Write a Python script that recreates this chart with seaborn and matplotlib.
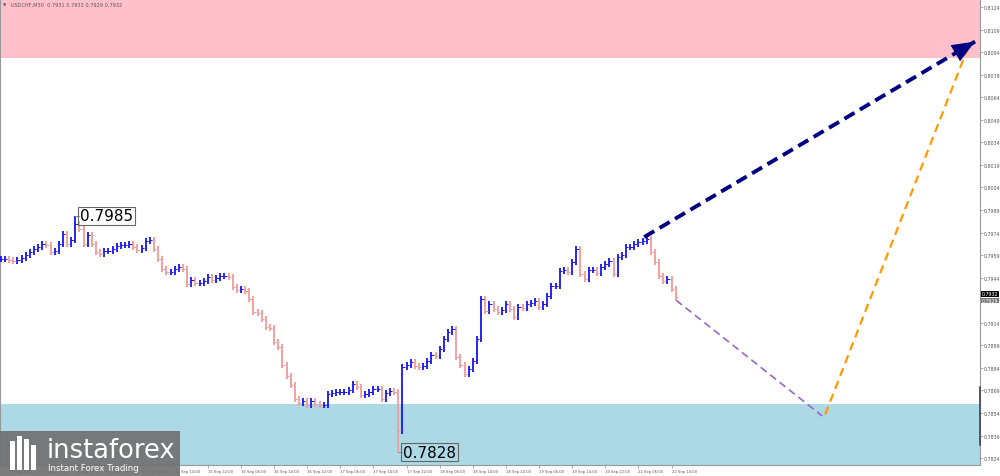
import numpy as np
import pandas as pd
import seaborn as sns
import matplotlib
matplotlib.use("Agg")
from matplotlib import pyplot as plt
from matplotlib.patches import Rectangle

sns.set_theme(style="white")
plt.rcParams['font.family'] = ['DejaVu Sans']

# USDCHF hourly closes (11 Sep 20:00 -> 22 Sep 15:00)
first_open = 0.7956
closes = [
    0.79564, 0.79564, 0.79557, 0.79551, 0.79557, 0.79571, 0.79591, 0.79611, 0.79630, 0.79644,
    0.79664, 0.79657, 0.79611, 0.79617, 0.79664, 0.79730, 0.79664, 0.79690, 0.79797, 0.79764,
    0.79664, 0.79724, 0.79664, 0.79611, 0.79597, 0.79617, 0.79617, 0.79630, 0.79650, 0.79657,
    0.79657, 0.79664, 0.79644, 0.79624, 0.79637, 0.79684, 0.79690, 0.79630, 0.79564, 0.79497,
    0.79477, 0.79477, 0.79497, 0.79511, 0.79497, 0.79398, 0.79424, 0.79404, 0.79404, 0.79418,
    0.79444, 0.79424, 0.79438, 0.79451, 0.79451, 0.79444, 0.79378, 0.79358, 0.79364, 0.79351,
    0.79298, 0.79211, 0.79205, 0.79165, 0.79112, 0.79105, 0.79012, 0.78979, 0.78859, 0.78786,
    0.78726, 0.78633, 0.78607, 0.78620, 0.78593, 0.78620, 0.78600, 0.78593, 0.78593, 0.78666,
    0.78673, 0.78680, 0.78680, 0.78680, 0.78693, 0.78733, 0.78713, 0.78660, 0.78666, 0.78680,
    0.78699, 0.78699, 0.78633, 0.78673, 0.78685, 0.78680, 0.78420, 0.78846, 0.78859, 0.78879,
    0.78852, 0.78846, 0.78852, 0.78886, 0.78926, 0.78919, 0.78965, 0.79032, 0.79079, 0.79098,
    0.78912, 0.78859, 0.78799, 0.78832, 0.78886, 0.79032, 0.79298, 0.79218, 0.79265, 0.79231,
    0.79211, 0.79225, 0.79265, 0.79231, 0.79178, 0.79245, 0.79238, 0.79265, 0.79271, 0.79285,
    0.79245, 0.79265, 0.79318, 0.79384, 0.79384, 0.79484, 0.79491, 0.79477, 0.79544, 0.79630,
    0.79464, 0.79431, 0.79491, 0.79491, 0.79471, 0.79511, 0.79531, 0.79551, 0.79464, 0.79577,
    0.79591, 0.79644, 0.79644, 0.79664, 0.79677, 0.79684, 0.79697, 0.79611, 0.79544, 0.79451,
    0.79418, 0.79431, 0.79364, 0.79311,
]

# labelled swing extremes
swing_bars = [18, 96]
swing_prices = [0.7985, 0.7828]

tick_labels = ["11 Sep 2025", "12 Sep 06:00", "12 Sep 14:00", "12 Sep 22:00", "15 Sep 06:00",
               "15 Sep 14:00", "15 Sep 22:00", "16 Sep 06:00", "16 Sep 14:00", "16 Sep 22:00",
               "17 Sep 06:00", "17 Sep 14:00", "17 Sep 22:00", "18 Sep 06:00", "18 Sep 14:00",
               "18 Sep 22:00", "19 Sep 06:00", "19 Sep 14:00", "19 Sep 22:00", "22 Sep 06:00",
               "22 Sep 14:00"]
price_ticks = [0.7824, 0.7839, 0.7854, 0.7869, 0.7884, 0.7899, 0.7914, 0.7929, 0.7944, 0.7959,
               0.7974, 0.7989, 0.8004, 0.8019, 0.8034, 0.8049, 0.8064, 0.8079, 0.8094, 0.8109,
               0.8124]

# resistance / support zones
resist_zone = [0.8090, 0.8140]
support_zone = [0.7800, 0.7860]

# forecast waves (bar position, price)
wave_up_bars, wave_up_prices = [155.4, 235.3], [0.7971, 0.8101]
wave_down_bars, wave_down_prices = [163.1, 198.4], [0.7929, 0.7852]
wave_final_bars, wave_final_prices = [199.1, 233.6], [0.7853, 0.8097]

header = "USDCHF,M30  0.7931 0.7933 0.7929 0.7932"
last_price = 0.7932
bid_price = 0.7929

###############################################################################
fig = plt.figure(figsize=(10, 4.77), dpi=100)
ax = fig.add_axes([0, 0.023, 0.98, 0.977])

ax.axhspan(resist_zone[0], resist_zone[1], color="#ffc0cb", lw=0, zorder=0)
ax.axhspan(support_zone[0], support_zone[1], color="#add8e6", lw=0, zorder=0)

df = pd.DataFrame({"bar": np.arange(len(closes)), "close": closes})
df["open"] = df["close"].shift(1).fillna(first_open)
wick = 0.00018
df["top"] = df[["open", "close"]].max(axis=1) + wick
df["bot"] = df[["open", "close"]].min(axis=1) - wick
for b, p in zip(swing_bars, swing_prices):
    if p > df.loc[b, "top"]:
        df.loc[b, "top"] = p
    else:
        df.loc[b, "bot"] = p
df["dir"] = np.where(df["close"] >= df["open"], "up", "down")
bar_colors = {"up": "#1414f0", "down": "#f29a9a"}

for d, c in bar_colors.items():
    sub = df[df["dir"] == d]
    ax.vlines(sub["bar"], sub["bot"], sub["top"], color=c, lw=1.3, zorder=3)

sns.scatterplot(data=df, x="bar", y="close", hue="dir", palette=bar_colors,
                marker=1, s=3, linewidth=0.7, legend=False, ax=ax, zorder=4)

# swing labels
for b, p in zip(swing_bars, swing_prices):
    ax.plot([b, b + 1.0], [p, p], color="#888888", lw=0.7, zorder=4)
    ax.text(b + 1.1, p, f"{p:.4f}", fontsize=11, va="center", ha="left", color="black",
            zorder=6, bbox=dict(boxstyle="square,pad=0.12", fc="none", ec="#666666", lw=0.8))

# forecast waves
sns.lineplot(x=wave_up_bars, y=wave_up_prices, ax=ax, color="#000080", lw=2.8,
             linestyle=(0, (3, 1.6)), zorder=7)
sns.lineplot(x=wave_down_bars, y=wave_down_prices, ax=ax, color="#9966cc", lw=1.2,
             linestyle=(0, (4.5, 2.7)), zorder=7)
sns.lineplot(x=wave_final_bars, y=wave_final_prices, ax=ax, color="#ff9900", lw=1.6,
             linestyle=(0, (3.8, 2.4)), zorder=7)
tail_x = wave_up_bars[0] + 0.9 * (wave_up_bars[1] - wave_up_bars[0])
tail_y = wave_up_prices[0] + 0.9 * (wave_up_prices[1] - wave_up_prices[0])
ax.annotate("", xy=(wave_up_bars[1], wave_up_prices[1]), xytext=(tail_x, tail_y),
            arrowprops=dict(arrowstyle="-|>,head_length=1.1,head_width=0.45",
                            color="#000080", lw=0, mutation_scale=15,
                            shrinkA=0, shrinkB=0), zorder=8)

ax.set_xlim(-0.2, 236.5)
ax.set_ylim(0.78194, 0.81293)

ax.set_xticks([2 + 8 * k for k in range(len(tick_labels))])
ax.set_xticklabels(tick_labels)
for lbl in ax.get_xticklabels():
    lbl.set_ha("left")
ax.tick_params(axis="x", bottom=True, length=2, width=0.5, pad=1, labelsize=2.7,
               labelcolor="#555555", color="#888888")

ax.yaxis.tick_right()
ax.set_yticks(price_ticks)
ax.set_yticklabels([f"{t:.4f}" for t in price_ticks])
ax.tick_params(axis="y", right=True, length=2, width=0.5, pad=1, labelsize=3.4,
               labelcolor="#555555", color="#888888")
ax.set_xlabel("")
ax.set_ylabel("")

for side in ["right", "bottom", "left"]:
    ax.spines[side].set_visible(True)
    ax.spines[side].set_color("#999999")
    ax.spines[side].set_linewidth(0.8)
ax.spines["top"].set_visible(False)

# dark mark on price scale
ax.plot([1.0, 1.0], [0.7871, 0.7833], transform=ax.get_yaxis_transform(),
        color="#555555", lw=1.4, clip_on=False, zorder=9)

# current price tags
ax.text(1.002, last_price + 0.00014, f"{last_price:.4f}", transform=ax.get_yaxis_transform(),
        fontsize=3.4, color="white", va="center", ha="left",
        bbox=dict(boxstyle="square,pad=0.1", fc="black", ec="none"))
ax.text(1.002, bid_price - 0.00002, f"{bid_price:.4f}", transform=ax.get_yaxis_transform(),
        fontsize=3.4, color="white", va="center", ha="left",
        bbox=dict(boxstyle="square,pad=0.1", fc="#777777", ec="none"))

fig.text(0.003, 0.989, "\u25bc", fontsize=3.2, color="#555555", va="center")
fig.text(0.011, 0.989, header, fontsize=3.6, color="#555555", va="center")

# instaforex logo
fig.add_artist(Rectangle((0, 0), 0.18, 0.0943, transform=fig.transFigure,
                         color="#6f6f6f", alpha=0.9, lw=0, zorder=10))
for x0, h in [(0.010, 0.062), (0.017, 0.072), (0.024, 0.066), (0.031, 0.052)]:
    fig.add_artist(Rectangle((x0, 0.012), 0.005, h, transform=fig.transFigure,
                             color="white", lw=0, zorder=11))
fig.text(0.047, 0.040, "instaforex", fontsize=18.5, color="white", va="baseline",
         ha="left", zorder=12)
fig.text(0.048, 0.012, "Instant Forex Trading", fontsize=6.2, color="white",
         va="baseline", ha="left", zorder=12)

fig.savefig("out.png", dpi=100)
